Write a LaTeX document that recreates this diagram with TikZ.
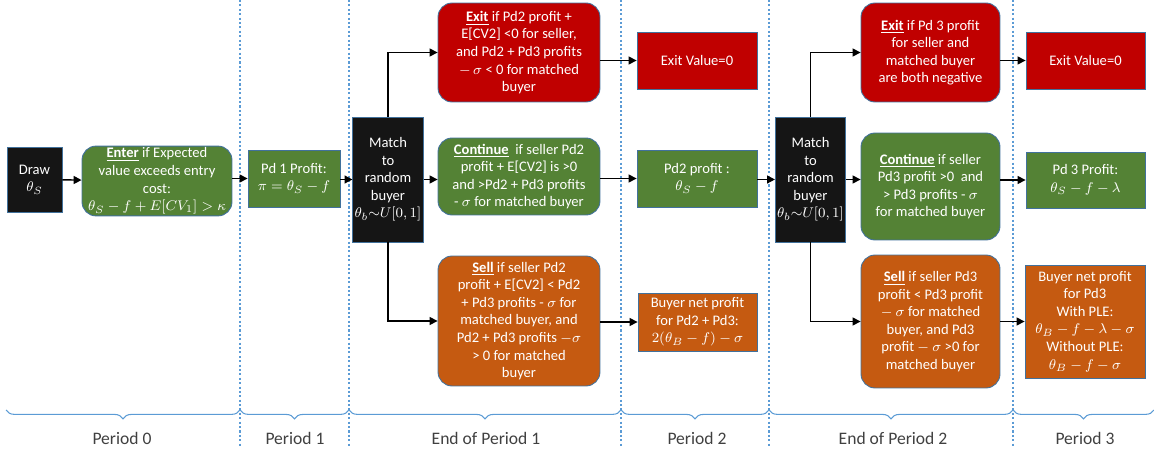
\documentclass[tikz,border=0pt]{standalone}
\usepackage{fontspec}
\setmainfont{Carlito}
\usetikzlibrary{arrows.meta,decorations.pathreplacing}
\definecolor{boxline}{HTML}{41719C}
\definecolor{gbox}{HTML}{548235}
\definecolor{rbox}{HTML}{C00000}
\definecolor{obox}{HTML}{C55A11}
\definecolor{kbox}{HTML}{151515}
\definecolor{period}{HTML}{5B9BD5}
\newcommand{\boxfont}{\fontsize{8.3}{10}\selectfont}
\tikzset{
	box/.style={draw=boxline, line width=0.5pt, text=white, align=center, font=\boxfont, inner sep=1pt},
	kblock/.style={box, fill=kbox},
	gblock/.style={box, fill=gbox},
	rblock/.style={box, fill=rbox},
	oblock/.style={box, fill=obox},
	rnd/.style={rounded corners=8pt},
	flow/.style={line width=0.8pt, -{Triangle[length=4.5pt,width=4.5pt]}},
	divider/.style={period, line width=1.4pt, dash pattern=on 1.2pt off 1.3pt},
	span/.style={period, line width=0.6pt, decorate, decoration={brace,mirror,amplitude=5pt}},
	spanlabel/.style={text=black!75, font=\fontsize{10}{12}\selectfont}
}

\begin{document}
\begin{tikzpicture}[x=0.02cm, y=-0.02cm]
			%%%%% START %%%%%
			\useasboundingbox (0,0) rectangle (1154,456);
			
			% period dividers
			\foreach \px in {240,349,621,769,1013}
				\draw[divider] (\px,0) -- (\px,446);
			
			% period 0 and 1
			\node[kblock, minimum width=1.1cm, minimum height=1.3cm] (draw) at (34.5,179.5) {Draw\\$\theta_S$};
			\node[gblock, rnd, minimum width=3cm, minimum height=1.36cm] (enter) at (157,181) {\underline{\textbf{Enter}} if Expected\\value exceeds entry\\cost:\\$\theta_S-f+E[CV_1]>\kappa$};
			\node[gblock, minimum width=1.84cm, minimum height=1.14cm] (pdone) at (294,178.5) {Pd 1 Profit:\\$\pi=\theta_S-f$};
			
			% end of period 1
			\node[kblock, minimum width=1.28cm, minimum height=2.5cm] (matchA) at (388,179.5) {Match\\to\\random\\buyer\\$\theta_b{\sim}U[0,1]$};
			\node[rblock, rnd, minimum width=3.24cm, minimum height=1.98cm] (exitA) at (519,52.5) {\underline{\textbf{Exit}} if Pd2 profit +\\E[CV2] <0 for seller,\\and Pd2 + Pd3 profits\\$-\,\sigma$ < 0 for matched\\buyer};
			\node[gblock, rnd, minimum width=3.24cm, minimum height=1.54cm] (contA) at (519,176.5) {\underline{\textbf{Continue}}\ \ if seller Pd2\\profit + E[CV2] is >0\\and >Pd2 + Pd3 profits\\- $\sigma$ for matched buyer};
			\node[oblock, rnd, minimum width=3.24cm, minimum height=2.6cm] (sellA) at (519,321) {\underline{\textbf{Sell}} if seller Pd2\\profit + E[CV2] < Pd2\\+ Pd3 profits - $\sigma$ for\\matched buyer, and\\Pd2 + Pd3 profits $-\sigma$\\> 0 for matched\\buyer};
			
			% period 2
			\node[rblock, minimum width=2.4cm, minimum height=1.14cm] (exitvA) at (697,60.5) {Exit Value=0};
			\node[gblock, minimum width=2.4cm, minimum height=1.14cm] (pdtwo) at (697,178.5) {Pd2 profit :\\$\theta_S-f$};
			\node[oblock, minimum width=2.38cm, minimum height=1.16cm] (buyA) at (697.5,322) {Buyer net profit\\for Pd2 + Pd3:\\$2(\theta_B-f)-\sigma$};
			
			% end of period 2
			\node[kblock, minimum width=1.3cm, minimum height=2.5cm] (matchB) at (810.5,179.5) {Match\\to\\random\\buyer\\$\theta_b{\sim}U[0,1]$};
			\node[rblock, rnd, minimum width=2.78cm, minimum height=1.98cm] (exitB) at (930.5,52.5) {\underline{\textbf{Exit}} if Pd 3 profit\\for seller and\\matched buyer\\are both negative};
			\node[gblock, rnd, minimum width=2.78cm, minimum height=2.14cm] (contB) at (930.5,186.5) {\underline{\textbf{Continue}} if seller\\Pd3 profit >0\ \ and\\> Pd3 profits - $\sigma$\\for matched buyer};
			\node[oblock, rnd, minimum width=2.78cm, minimum height=2.66cm] (sellB) at (930.5,321.5) {\underline{\textbf{Sell}} if seller Pd3\\profit < Pd3 profit\\$-\ \sigma$ for matched\\buyer, and Pd3\\profit $-\ \sigma$ >0 for\\matched buyer};
			
			% period 3
			\node[rblock, minimum width=2.38cm, minimum height=1.14cm] (exitvB) at (1085.5,60.5) {Exit Value=0};
			\node[gblock, minimum width=2.38cm, minimum height=1.12cm] (pdthree) at (1085.5,180) {Pd 3 Profit:\\$\theta_S-f-\lambda$};
			\node[oblock, minimum width=2.4cm, minimum height=2.26cm] (buyB) at (1085,321.5) {Buyer net profit\\for Pd3\\With PLE:\\$\theta_B-f-\lambda-\sigma$\\Without PLE:\\$\theta_B-f-\sigma$};
			
			% connectors
			\draw[flow] (draw) -- (enter);
			\draw[flow] (enter.east |- pdone.west) -- (pdone.west);
			\draw[flow] (pdone.east |- matchA.west) -- (matchA.west);
			\draw[flow] (matchA.north) |- (exitA.west);
			\draw[flow] (matchA.east) -- (matchA.east -| contA.west);
			\draw[flow] (matchA.south) |- (sellA.west);
			\draw[flow] (exitA.east |- exitvA.west) -- (exitvA.west);
			\draw[flow] (contA.east |- pdtwo.west) -- (pdtwo.west);
			\draw[flow] (sellA.east |- buyA.west) -- (buyA.west);
			\draw[flow] (pdtwo.east |- matchB.west) -- (matchB.west);
			\draw[flow] (matchB.north) |- (exitB.west);
			\draw[flow] (matchB.east) -- (matchB.east -| contB.west);
			\draw[flow] (matchB.south) |- (sellB.west);
			\draw[flow] (exitB.east |- exitvB.west) -- (exitvB.west);
			\draw[flow] (contB.east |- pdthree.west) -- (pdthree.west);
			\draw[flow] (sellB.east |- buyB.west) -- (buyB.west);
			
			% periods
			\draw[span] (6,410) -- (240,410);
			\draw[span] (240,410) -- (349,410);
			\draw[span] (349,410) -- (621,410);
			\draw[span] (621,410) -- (769,410);
			\draw[span] (769,410) -- (1013,410);
			\draw[span] (1013,410) -- (1154,410);
			\node[spanlabel] (pzero) at (122,438) {Period 0};
			\node[spanlabel] (pone) at (295,438) {Period 1};
			\node[spanlabel] (endone) at (486,438) {End of Period 1};
			\node[spanlabel] (ptwo) at (697,438) {Period 2};
			\node[spanlabel] (endtwo) at (893,438) {End of Period 2};
			\node[spanlabel] (pthree) at (1085,438) {Period 3};
			
			%%%%% END %%%%%
		\end{tikzpicture}
\end{document}
